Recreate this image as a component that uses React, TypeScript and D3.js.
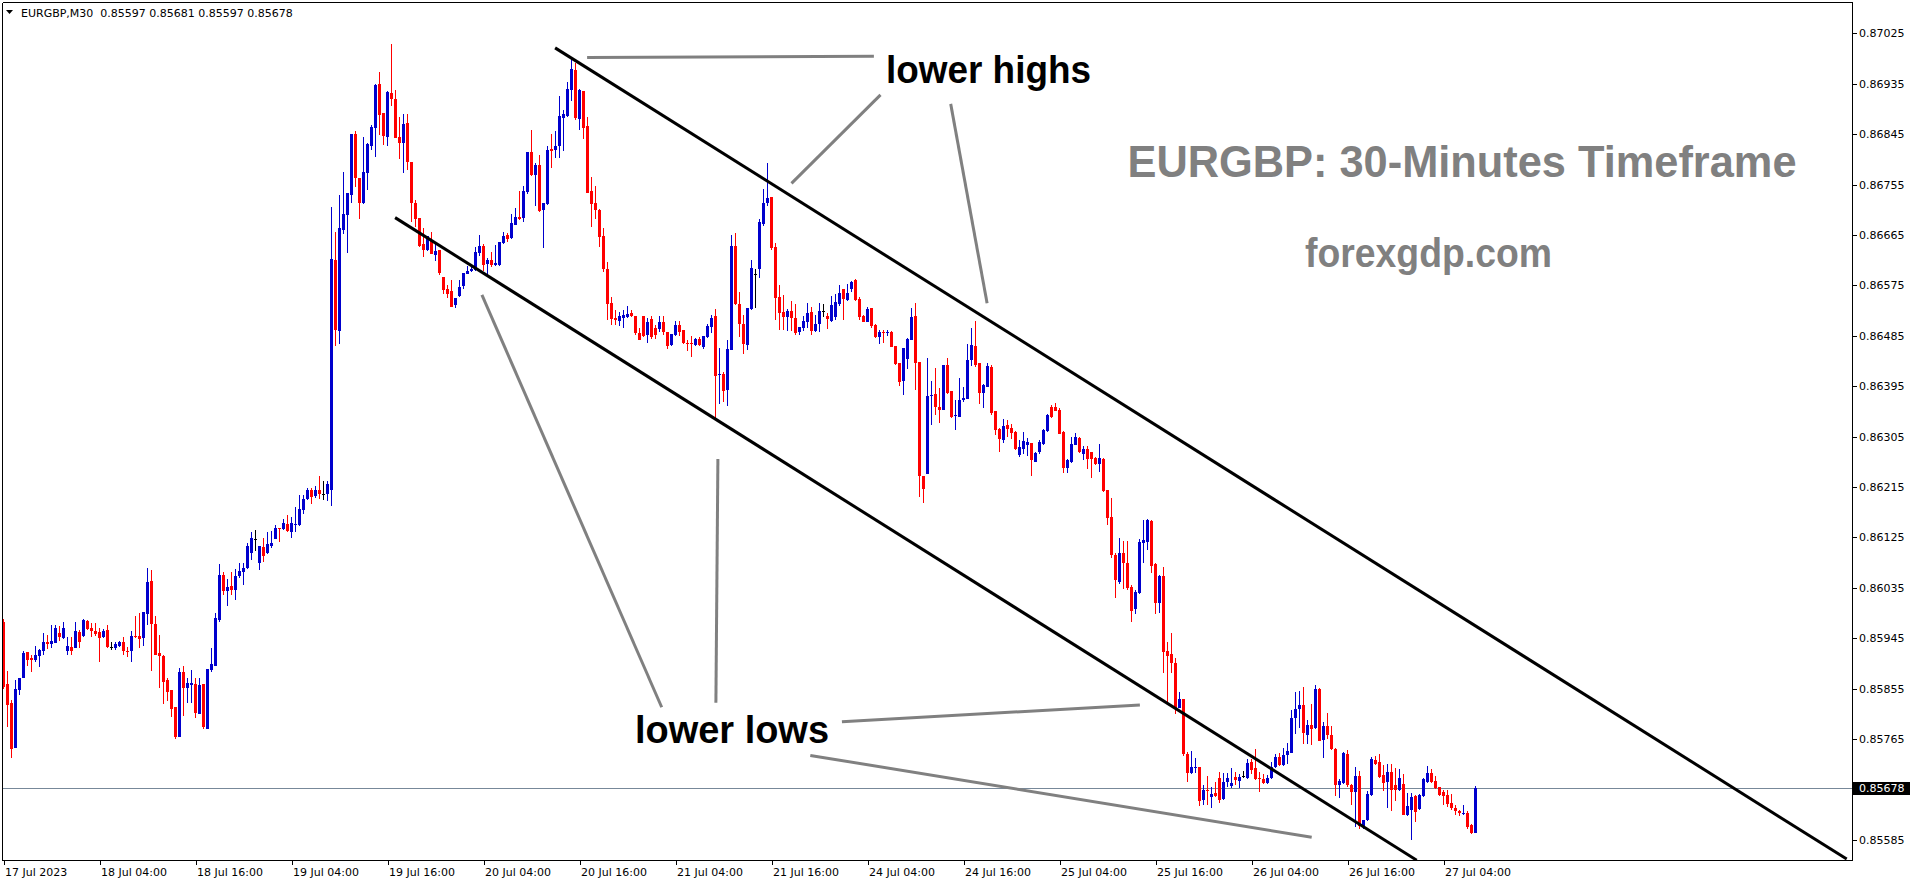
import { useEffect, useRef } from 'react';
import * as d3 from 'd3';

const WIDTH = 1916;
const HEIGHT = 884;
const PLOT = { left: 2.5, top: 2.5, right: 1852.5, bottom: 860.5 };
const BAR_STEP = 4;
const FIRST_BAR_X = 3.5;
const BULL = '#0000cd';
const BEAR = '#ff0000';

// EURGBP M30 bars from 17 Jul 16:00, prices in 1e-5 units
const OPEN = [
  85975, 85864, 85830, 85750, 85853, 85875, 85921, 85910, 85906, 85914,
  85922, 85939, 85934, 85937, 85955, 85946, 85923, 85930, 85928, 85956,
  85949, 85976, 85963, 85958, 85956, 85948, 85960, 85929, 85928, 85931,
  85938, 85923, 85923, 85949, 85949, 85946, 85989, 86047, 85971, 85918,
  85913, 85871, 85853, 85822, 85769, 85885, 85857, 85862, 85864, 85810,
  85864, 85784, 85888, 85896, 85977, 86058, 86030, 86038, 86031, 86056,
  86064, 86071, 86097, 86122, 86080, 86108, 86097, 86110, 86122, 86142,
  86140, 86149, 86135, 86147, 86147, 86174, 86194, 86210, 86199, 86210,
  86203, 86203, 86210, 86621, 86494, 86674, 86701, 86737, 86846, 86767,
  86722, 86776, 86824, 86856, 86935, 86883, 86840, 86919, 86908, 86840,
  86829, 86865, 86795, 86722, 86696, 86649, 86638, 86656, 86630, 86638,
  86590, 86569, 86565, 86540, 86556, 86574, 86596, 86601, 86603, 86633,
  86646, 86614, 86621, 86612, 86612, 86651, 86665, 86660, 86683, 86697,
  86696, 86742, 86813, 86772, 86790, 86710, 86721, 86819, 86817, 86824,
  86874, 86878, 86924, 86960, 86872, 86922, 86860, 86744, 86722, 86710,
  86663, 86605, 86544, 86517, 86512, 86517, 86519, 86526, 86521, 86490,
  86521, 86487, 86515, 86499, 86497, 86510, 86492, 86469, 86487, 86505,
  86496, 86472, 86472, 86469, 86480, 86465, 86483, 86501, 86520, 86416,
  86417, 86388, 86459, 86645, 86542, 86506, 86468, 86533, 86596, 86604,
  86684, 86722, 86733, 86643, 86554, 86527, 86518, 86529, 86517, 86492,
  86499, 86509, 86527, 86493, 86506, 86529, 86520, 86511, 86518, 86542,
  86568, 86549, 86568, 86584, 86550, 86520, 86509, 86534, 86504, 86483,
  86492, 86490, 86492, 86467, 86436, 86404, 86443, 86477, 86520, 86438,
  86235, 86238, 86377, 86381, 86358, 86352, 86433, 86386, 86342, 86340,
  86370, 86372, 86442, 86467, 86436, 86383, 86393, 86429, 86351, 86318,
  86299, 86326, 86320, 86313, 86272, 86283, 86290, 86293, 86260, 86277,
  86292, 86315, 86358, 86358, 86352, 86313, 86249, 86260, 86290, 86302,
  86274, 86283, 86277, 86267, 86256, 86265, 86210, 86162, 86094, 86046,
  86097, 86079, 86037, 85997, 86026, 86115, 86117, 86154, 86078, 86008,
  86056, 85922, 85917, 85901, 85821, 85837, 85739, 85705, 85714, 85715,
  85656, 85674, 85662, 85669, 85696, 85658, 85689, 85681, 85698, 85690,
  85699, 85696, 85724, 85714, 85696, 85694, 85687, 85696, 85715, 85733,
  85719, 85737, 85740, 85803, 85819, 85826, 85772, 85790, 85785, 85855,
  85764, 85789, 85772, 85747, 85683, 85687, 85739, 85683, 85671, 85699,
  85610, 85621, 85665, 85728, 85724, 85701, 85689, 85706, 85683, 85674,
  85685, 85630, 85639, 85664, 85640, 85664, 85689, 85705, 85690, 85680,
  85671, 85665, 85651, 85642, 85637, 85631, 85633, 85612, 85597,
];

const HIGH = [
  85980, 85887, 85835, 85871, 85875, 85923, 85921, 85915, 85931, 85926,
  85955, 85951, 85969, 85969, 85967, 85974, 85947, 85947, 85974, 85960,
  85980, 85977, 85973, 85972, 85964, 85962, 85969, 85938, 85939, 85941,
  85948, 85930, 85958, 85984, 85990, 85992, 86071, 86067, 85985, 85951,
  85915, 85875, 85853, 85822, 85892, 85896, 85875, 85888, 85875, 85875,
  85864, 85890, 85928, 85990, 86078, 86063, 86051, 86063, 86069, 86079,
  86079, 86116, 86135, 86138, 86110, 86124, 86135, 86137, 86147, 86142,
  86158, 86165, 86162, 86179, 86201, 86201, 86213, 86213, 86217, 86235,
  86226, 86226, 86715, 86671, 86737, 86778, 86740, 86846, 86851, 86767,
  86840, 86829, 86862, 86935, 86956, 86883, 86922, 87006, 86924, 86876,
  86881, 86881, 86795, 86728, 86696, 86678, 86663, 86671, 86651, 86638,
  86590, 86576, 86585, 86553, 86585, 86597, 86610, 86612, 86644, 86665,
  86649, 86624, 86635, 86647, 86653, 86671, 86669, 86703, 86713, 86744,
  86753, 86813, 86853, 86794, 86808, 86722, 86824, 86846, 86850, 86913,
  86888, 86938, 86983, 86972, 86926, 86922, 86876, 86769, 86753, 86712,
  86678, 86617, 86555, 86531, 86528, 86531, 86539, 86531, 86521, 86499,
  86521, 86517, 86521, 86505, 86521, 86521, 86492, 86489, 86512, 86512,
  86496, 86478, 86485, 86481, 86483, 86485, 86506, 86522, 86533, 86463,
  86420, 86477, 86665, 86668, 86563, 86522, 86534, 86620, 86604, 86693,
  86747, 86793, 86733, 86650, 86575, 86558, 86533, 86547, 86542, 86500,
  86520, 86543, 86536, 86522, 86543, 86542, 86525, 86556, 86559, 86575,
  86568, 86577, 86583, 86586, 86554, 86522, 86536, 86534, 86506, 86495,
  86495, 86495, 86493, 86467, 86436, 86463, 86481, 86534, 86543, 86438,
  86235, 86445, 86404, 86427, 86392, 86433, 86445, 86386, 86370, 86410,
  86393, 86470, 86499, 86511, 86436, 86399, 86436, 86433, 86351, 86320,
  86336, 86335, 86327, 86315, 86299, 86313, 86302, 86293, 86277, 86299,
  86318, 86345, 86361, 86365, 86356, 86315, 86265, 86304, 86311, 86304,
  86288, 86288, 86277, 86268, 86292, 86267, 86210, 86196, 86097, 86124,
  86119, 86119, 86040, 86031, 86122, 86156, 86158, 86156, 86079, 86058,
  86072, 85938, 85955, 85910, 85849, 85837, 85742, 85744, 85731, 85715,
  85683, 85699, 85680, 85689, 85706, 85705, 85705, 85714, 85706, 85703,
  85708, 85730, 85730, 85747, 85706, 85703, 85701, 85724, 85739, 85740,
  85749, 85758, 85817, 85849, 85851, 85858, 85799, 85828, 85862, 85856,
  85796, 85812, 85789, 85749, 85694, 85742, 85746, 85685, 85715, 85708,
  85621, 85672, 85733, 85735, 85739, 85719, 85721, 85721, 85714, 85712,
  85703, 85669, 85669, 85665, 85667, 85696, 85717, 85712, 85699, 85680,
  85674, 85674, 85667, 85648, 85639, 85648, 85636, 85614, 85681,
];

const LOW = [
  85855, 85786, 85732, 85750, 85844, 85875, 85896, 85884, 85903, 85894,
  85915, 85926, 85928, 85936, 85940, 85944, 85915, 85915, 85928, 85928,
  85948, 85960, 85948, 85950, 85903, 85946, 85927, 85925, 85925, 85930,
  85915, 85911, 85903, 85945, 85928, 85932, 85969, 85887, 85915, 85856,
  85828, 85834, 85805, 85765, 85768, 85806, 85830, 85830, 85803, 85810,
  85783, 85783, 85884, 85896, 85975, 86022, 86002, 86022, 86013, 86053,
  86040, 86068, 86085, 86101, 86067, 86081, 86096, 86106, 86122, 86117,
  86138, 86135, 86124, 86135, 86146, 86167, 86192, 86185, 86196, 86194,
  86192, 86190, 86181, 86467, 86471, 86667, 86633, 86722, 86751, 86694,
  86721, 86746, 86817, 86805, 86844, 86826, 86824, 86895, 86838, 86801,
  86776, 86781, 86688, 86680, 86644, 86626, 86637, 86631, 86619, 86594,
  86560, 86553, 86537, 86535, 86555, 86569, 86596, 86599, 86601, 86628,
  86601, 86592, 86608, 86610, 86610, 86649, 86653, 86658, 86683, 86692,
  86688, 86738, 86771, 86717, 86706, 86642, 86719, 86785, 86803, 86803,
  86815, 86876, 86904, 86870, 86853, 86837, 86740, 86680, 86694, 86644,
  86599, 86514, 86505, 86505, 86503, 86499, 86517, 86519, 86487, 86478,
  86483, 86472, 86480, 86480, 86492, 86487, 86462, 86467, 86485, 86485,
  86471, 86458, 86448, 86467, 86467, 86462, 86481, 86490, 86336, 86363,
  86367, 86360, 86459, 86540, 86483, 86452, 86459, 86531, 86534, 86589,
  86681, 86717, 86638, 86513, 86495, 86495, 86493, 86493, 86486, 86486,
  86493, 86499, 86486, 86492, 86492, 86518, 86497, 86509, 86513, 86538,
  86513, 86547, 86563, 86547, 86513, 86509, 86509, 86499, 86481, 86470,
  86472, 86484, 86465, 86433, 86395, 86379, 86426, 86477, 86388, 86197,
  86186, 86238, 86326, 86343, 86329, 86352, 86381, 86338, 86317, 86340,
  86367, 86372, 86431, 86429, 86363, 86356, 86393, 86343, 86308, 86277,
  86293, 86304, 86301, 86281, 86268, 86274, 86270, 86235, 86260, 86274,
  86290, 86313, 86338, 86351, 86310, 86240, 86240, 86258, 86290, 86276,
  86263, 86247, 86231, 86254, 86242, 86206, 86147, 86088, 86017, 86042,
  86033, 86031, 85974, 85988, 86024, 86079, 86103, 86062, 85988, 85990,
  85883, 85828, 85883, 85810, 85821, 85735, 85689, 85703, 85705, 85646,
  85648, 85648, 85642, 85662, 85651, 85656, 85680, 85678, 85683, 85678,
  85696, 85694, 85703, 85692, 85671, 85685, 85685, 85694, 85714, 85717,
  85717, 85721, 85740, 85774, 85785, 85756, 85756, 85755, 85783, 85762,
  85731, 85765, 85746, 85664, 85660, 85685, 85680, 85648, 85608, 85605,
  85605, 85619, 85664, 85719, 85696, 85672, 85642, 85637, 85655, 85672,
  85630, 85628, 85585, 85617, 85639, 85662, 85687, 85687, 85676, 85664,
  85648, 85644, 85639, 85630, 85628, 85630, 85605, 85596, 85597,
];

const CLOSE = [
  85859, 85826, 85747, 85855, 85875, 85919, 85906, 85906, 85915, 85925,
  85939, 85934, 85940, 85964, 85947, 85963, 85931, 85923, 85958, 85939,
  85978, 85962, 85958, 85953, 85946, 85958, 85930, 85929, 85935, 85938,
  85923, 85921, 85949, 85947, 85944, 85992, 86046, 85971, 85915, 85914,
  85867, 85850, 85819, 85769, 85885, 85857, 85865, 85865, 85812, 85862,
  85787, 85890, 85899, 85981, 86058, 86030, 86037, 86031, 86056, 86065,
  86071, 86110, 86124, 86122, 86110, 86092, 86113, 86115, 86142, 86141,
  86151, 86137, 86151, 86149, 86176, 86194, 86210, 86197, 86210, 86203,
  86203, 86220, 86622, 86496, 86678, 86703, 86740, 86846, 86767, 86722,
  86778, 86828, 86858, 86933, 86879, 86842, 86920, 86908, 86838, 86829,
  86863, 86795, 86722, 86694, 86646, 86638, 86663, 86631, 86637, 86597,
  86567, 86560, 86537, 86553, 86572, 86597, 86601, 86605, 86635, 86646,
  86612, 86621, 86612, 86615, 86653, 86663, 86658, 86687, 86697, 86694,
  86744, 86813, 86772, 86790, 86708, 86722, 86817, 86815, 86824, 86878,
  86881, 86926, 86962, 86874, 86924, 86856, 86740, 86721, 86710, 86662,
  86605, 86542, 86515, 86514, 86521, 86522, 86524, 86521, 86490, 86478,
  86485, 86510, 86483, 86487, 86510, 86492, 86467, 86489, 86505, 86492,
  86472, 86471, 86471, 86480, 86469, 86485, 86503, 86517, 86413, 86417,
  86386, 86461, 86645, 86542, 86506, 86470, 86534, 86606, 86596, 86688,
  86722, 86731, 86642, 86552, 86526, 86518, 86529, 86517, 86490, 86500,
  86511, 86525, 86493, 86506, 86529, 86529, 86515, 86540, 86545, 86561,
  86550, 86561, 86581, 86549, 86518, 86509, 86533, 86502, 86483, 86492,
  86490, 86492, 86465, 86435, 86402, 86463, 86479, 86518, 86436, 86235,
  86211, 86377, 86379, 86358, 86352, 86433, 86383, 86340, 86343, 86370,
  86374, 86442, 86468, 86433, 86383, 86397, 86431, 86347, 86317, 86301,
  86324, 86318, 86311, 86283, 86286, 86297, 86295, 86263, 86275, 86295,
  86317, 86343, 86340, 86351, 86310, 86249, 86263, 86292, 86304, 86277,
  86283, 86265, 86265, 86256, 86267, 86208, 86160, 86094, 86049, 86097,
  86079, 86035, 85994, 86028, 86117, 86121, 86156, 86074, 86008, 86056,
  85921, 85913, 85901, 85821, 85837, 85739, 85705, 85715, 85715, 85655,
  85674, 85673, 85667, 85664, 85656, 85689, 85696, 85687, 85692, 85698,
  85699, 85722, 85710, 85694, 85694, 85687, 85696, 85715, 85733, 85719,
  85737, 85744, 85803, 85819, 85826, 85776, 85790, 85783, 85855, 85762,
  85789, 85772, 85747, 85683, 85690, 85740, 85683, 85671, 85699, 85610,
  85621, 85667, 85730, 85721, 85698, 85687, 85706, 85674, 85674, 85696,
  85630, 85646, 85662, 85635, 85665, 85694, 85705, 85689, 85678, 85665,
  85664, 85649, 85642, 85637, 85633, 85633, 85609, 85597, 85678,
];

// one time label every 24 bars
const TIME_LABELS = [
  '17 Jul 2023', '18 Jul 04:00', '18 Jul 16:00', '19 Jul 04:00', '19 Jul 16:00',
  '20 Jul 04:00', '20 Jul 16:00', '21 Jul 04:00', '21 Jul 16:00', '24 Jul 04:00',
  '24 Jul 16:00', '25 Jul 04:00', '25 Jul 16:00', '26 Jul 04:00', '26 Jul 16:00',
  '27 Jul 04:00',
];
const TIME_LABEL_STEP = 24;

const PRICE_TICKS = [
  0.87025, 0.86935, 0.86845, 0.86755, 0.86665, 0.86575, 0.86485, 0.86395, 0.86305,
  0.86215, 0.86125, 0.86035, 0.85945, 0.85855, 0.85765, 0.85585,
];
const LAST_PRICE = 0.85678;
const HEADER = 'EURGBP,M30  0.85597 0.85681 0.85597 0.85678';

// trendlines drawn on the chart: [bar, price, bar, price]
const CHANNEL_LINES = [
  [137.9, 0.86999, 460.8, 0.85551],
  [97.9, 0.86696, 353.3, 0.85549],
];
const POINTER_LINES = [
  [145.9, 0.86982, 217.6, 0.86984],
  [219.25, 0.86915, 197.0, 0.86757],
  [236.8, 0.86899, 245.9, 0.86543],
  [164.55, 0.85822, 119.6, 0.86558],
  [178.1, 0.8583, 178.6, 0.86265],
  [209.6, 0.85796, 284.1, 0.85826],
  [201.7, 0.85736, 327.05, 0.8559],
];

export default function App() {
  const svgRef = useRef<SVGSVGElement>(null);

  useEffect(() => {
    const svg = d3.select(svgRef.current);
    svg.selectAll('*').remove();

    const x = d3.scaleLinear().domain([0, 1]).range([FIRST_BAR_X, FIRST_BAR_X + BAR_STEP]);
    const y = d3.scaleLinear().domain([0.85585, 0.87025]).range([840, 33.3]);
    const px = (v: number) => y(v / 1e5);

    svg.append('rect').attr('width', WIDTH).attr('height', HEIGHT).attr('fill', '#ffffff');

    svg
      .append('defs')
      .append('clipPath')
      .attr('id', 'plot-clip')
      .append('rect')
      .attr('x', PLOT.left)
      .attr('y', PLOT.top)
      .attr('width', PLOT.right - PLOT.left)
      .attr('height', PLOT.bottom - PLOT.top);

    // bid line
    svg
      .append('line')
      .attr('x1', PLOT.left)
      .attr('x2', PLOT.right)
      .attr('y1', Math.round(y(LAST_PRICE)) + 0.5)
      .attr('y2', Math.round(y(LAST_PRICE)) + 0.5)
      .attr('stroke', '#778899')
      .attr('stroke-width', 1);

    // candles
    const bars = svg.append('g').attr('shape-rendering', 'crispEdges').attr('clip-path', 'url(#plot-clip)');
    OPEN.forEach((o, i) => {
      const c = CLOSE[i];
      const hi = Math.max(HIGH[i], o, c);
      const lo = Math.min(LOW[i], o, c);
      const color = o === c ? '#000000' : c > o ? BULL : BEAR;
      const cx = x(i);
      bars
        .append('rect')
        .attr('x', cx - 0.5)
        .attr('y', px(hi))
        .attr('width', 1)
        .attr('height', Math.max(1, px(lo) - px(hi)))
        .attr('fill', color);
      const top = px(Math.max(o, c));
      const bottom = px(Math.min(o, c));
      bars
        .append('rect')
        .attr('x', cx - 1.5)
        .attr('y', top)
        .attr('width', 3)
        .attr('height', Math.max(1, bottom - top))
        .attr('fill', color);
    });

    // trendlines
    const lines = svg.append('g').attr('clip-path', 'url(#plot-clip)');
    CHANNEL_LINES.forEach(([b1, p1, b2, p2]) => {
      lines
        .append('line')
        .attr('x1', x(b1)).attr('y1', y(p1))
        .attr('x2', x(b2)).attr('y2', y(p2))
        .attr('stroke', '#000000')
        .attr('stroke-width', 3);
    });
    POINTER_LINES.forEach(([b1, p1, b2, p2]) => {
      lines
        .append('line')
        .attr('x1', x(b1)).attr('y1', y(p1))
        .attr('x2', x(b2)).attr('y2', y(p2))
        .attr('stroke', '#808080')
        .attr('stroke-width', 3);
    });

    // annotation texts
    const bold = (tx: number, ty: number, txt: string, size: number, len: number, fill: string) =>
      svg
        .append('text')
        .attr('x', tx)
        .attr('y', ty)
        .attr('font-family', '"Liberation Sans", Arial, sans-serif')
        .attr('font-weight', 'bold')
        .attr('font-size', size)
        .attr('textLength', len)
        .attr('lengthAdjust', 'spacingAndGlyphs')
        .attr('fill', fill)
        .text(txt);
    bold(886, 82.5, 'lower highs', 39, 205, '#000000');
    bold(635, 742.5, 'lower lows', 38, 194, '#000000');
    bold(1127.5, 176.7, 'EURGBP: 30-Minutes Timeframe', 44, 669, '#808080');
    bold(1305, 266.6, 'forexgdp.com', 40, 247, '#808080');

    // frame and axes
    const frame = svg.append('g').attr('shape-rendering', 'crispEdges').attr('stroke', '#000000');
    frame.append('line').attr('x1', PLOT.left).attr('x2', PLOT.right).attr('y1', PLOT.top).attr('y2', PLOT.top);
    frame.append('line').attr('x1', PLOT.left).attr('x2', PLOT.left).attr('y1', PLOT.top).attr('y2', PLOT.bottom);
    frame.append('line').attr('x1', PLOT.left).attr('x2', PLOT.right).attr('y1', PLOT.bottom).attr('y2', PLOT.bottom);
    frame.append('line').attr('x1', PLOT.right).attr('x2', PLOT.right).attr('y1', PLOT.top).attr('y2', PLOT.bottom);

    const axisFont = '"DejaVu Sans", Tahoma, sans-serif';
    PRICE_TICKS.forEach((p) => {
      const ty = Math.round(y(p)) + 0.5;
      frame.append('line').attr('x1', PLOT.right).attr('x2', PLOT.right + 4).attr('y1', ty).attr('y2', ty);
      svg
        .append('text')
        .attr('x', 1859)
        .attr('y', ty)
        .attr('dy', '0.36em')
        .attr('font-family', axisFont)
        .attr('font-size', 11)
        .attr('fill', '#000000')
        .text(p.toFixed(5));
    });

    const ly = Math.round(y(LAST_PRICE));
    svg.append('rect').attr('x', 1853).attr('y', ly - 6).attr('width', 57).attr('height', 13).attr('fill', '#000000');
    svg
      .append('text')
      .attr('x', 1859)
      .attr('y', ly + 0.5)
      .attr('dy', '0.36em')
      .attr('font-family', axisFont)
      .attr('font-size', 11)
      .attr('fill', '#ffffff')
      .text(LAST_PRICE.toFixed(5));

    TIME_LABELS.forEach((label, k) => {
      const tx = Math.round(x(k * TIME_LABEL_STEP)) + 0.5;
      frame.append('line').attr('x1', tx).attr('x2', tx).attr('y1', PLOT.bottom).attr('y2', PLOT.bottom + 4);
      svg
        .append('text')
        .attr('x', tx + 0.5)
        .attr('y', 876)
        .attr('font-family', axisFont)
        .attr('font-size', 11)
        .attr('fill', '#000000')
        .text(label);
    });

    // header
    svg.append('path').attr('d', 'M6,10 L13,10 L9.5,14 Z').attr('fill', '#000000');
    svg
      .append('text')
      .attr('x', 21)
      .attr('y', 16.5)
      .attr('font-family', axisFont)
      .attr('font-size', 11)
      .attr('fill', '#000000')
      .style('white-space', 'pre')
      .text(HEADER);
  }, []);

  return (
    <div style={{ position: 'fixed', left: 0, top: 0, width: WIDTH, height: HEIGHT, background: '#ffffff' }}>
      <svg ref={svgRef} width={WIDTH} height={HEIGHT} style={{ display: 'block' }} />
    </div>
  );
}
